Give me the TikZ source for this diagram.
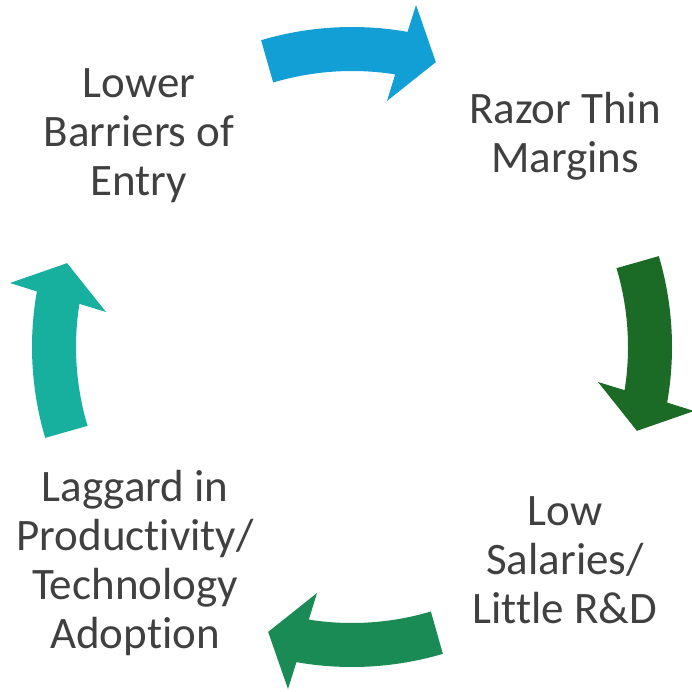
\documentclass[tikz,border=0pt]{standalone}
\usepackage{fontspec}
\setmainfont{Carlito}[Ligatures={NoCommon}]
\definecolor{arrowblue}{RGB}{17,159,214}
\definecolor{arrowdarkgreen}{RGB}{27,107,38}
\definecolor{arrowgreen}{RGB}{27,139,85}
\definecolor{arrowteal}{RGB}{23,175,158}
\definecolor{labelgray}{RGB}{64,64,64}
% one curved block arrow of the cycle, drawn at the top
\newcommand{\cyclearrow}{(-106.5:320) arc[start angle=-106.5, end angle=-80, radius=320] -- (-79.4:348) -- (-73.6:297) -- (-81.9:248.5) -- (-81:276) arc[start angle=-81, end angle=-106.6, radius=276] -- cycle}
\tikzset{
  steplabel/.style={anchor=base, align=center, inner sep=0pt, text=labelgray, font=\fontsize{45}{49}\selectfont},
}
\begin{document}
\begin{tikzpicture}[x=1pt,y=1pt,yscale=-1,xscale=1]
	\useasboundingbox (0,0) rectangle (692,692);
	
	%Shape: Circular Arrows
	\begin{scope}[shift={(352,347)}]
		\fill [arrowblue] \cyclearrow;
		\fill [arrowdarkgreen, rotate=90] \cyclearrow;
		\fill [arrowgreen, rotate=180] \cyclearrow;
		\fill [arrowteal, rotate=270] \cyclearrow;
	\end{scope}
	
	% Text Node (base = last line)
	\node [steplabel] (lower) at (139,196) {Lower\\Barriers of\\Entry};
	% Text Node
	\node [steplabel] (razor) at (565,173) {Razor Thin\\Margins};
	% Text Node
	\node [steplabel] (low) at (565,623) {Low\\Salaries/\\Little R\&D};
	% Text Node
	\node [steplabel] (laggard) at (135,648) {Laggard in\\Productivity/\\Technology\\Adoption};
	
\end{tikzpicture}
\end{document}
